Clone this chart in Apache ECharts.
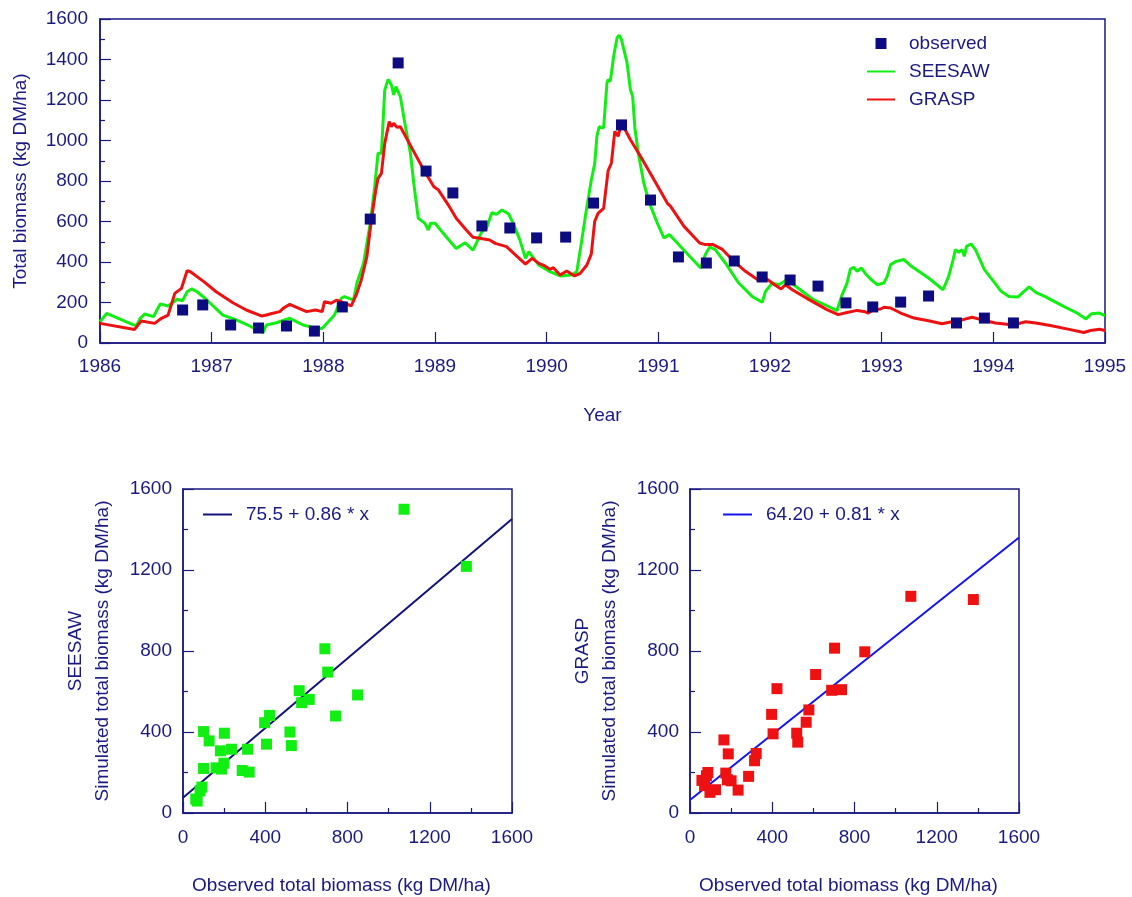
<!DOCTYPE html>
<html>
<head>
<meta charset="utf-8">
<script src="https://cdn.jsdelivr.net/npm/echarts@6/dist/echarts.min.js"></script>
<style>
html,body{margin:0;padding:0;background:#fff;}
#chart{width:1132px;height:897px;}
</style>
</head>
<body>
<div id="chart"></div>
<script>
// ---------- data ----------
const observed = [[1986.74,163],[1986.92,188],[1987.17,89],[1987.42,74],[1987.67,84],[1987.92,59],[1988.17,178],[1988.42,612],[1988.67,1383],[1988.92,849],[1989.16,741],[1989.42,578],[1989.67,568],[1989.91,519],[1990.17,523],[1990.42,691],[1990.67,1077],[1990.93,706],[1991.18,425],[1991.43,395],[1991.68,405],[1991.93,326],[1992.18,311],[1992.43,281],[1992.68,198],[1992.92,178],[1993.17,202],[1993.42,232],[1993.67,99],[1993.92,123],[1994.18,99]];

const seesaw = [[1986.00,105],[1986.06,146],[1986.30,89],[1986.33,89],[1986.36,122],[1986.40,143],[1986.48,130],[1986.51,163],[1986.54,193],[1986.61,183],[1986.69,216],[1986.74,209],[1986.78,253],[1986.82,267],[1986.87,253],[1986.94,221],[1987.10,138],[1987.22,114],[1987.34,84],[1987.46,51],[1987.49,89],[1987.58,100],[1987.70,122],[1987.82,89],[1987.94,72],[1987.99,72],[1988.10,138],[1988.16,221],[1988.19,229],[1988.27,212],[1988.30,295],[1988.36,393],[1988.42,591],[1988.46,772],[1988.49,937],[1988.52,937],[1988.55,1249],[1988.58,1302],[1988.61,1274],[1988.63,1225],[1988.65,1266],[1988.69,1216],[1988.73,1085],[1988.78,937],[1988.81,788],[1988.85,616],[1988.91,591],[1988.94,558],[1988.96,591],[1989.00,591],[1989.10,525],[1989.19,467],[1989.27,495],[1989.34,459],[1989.42,550],[1989.46,566],[1989.51,644],[1989.55,635],[1989.60,657],[1989.66,637],[1989.70,591],[1989.76,509],[1989.81,418],[1989.84,451],[1989.93,385],[1990.03,352],[1990.12,331],[1990.22,336],[1990.27,352],[1990.31,492],[1990.36,673],[1990.40,805],[1990.43,885],[1990.45,1020],[1990.47,1068],[1990.51,1062],[1990.54,1284],[1990.55,1300],[1990.57,1292],[1990.60,1416],[1990.63,1506],[1990.65,1520],[1990.67,1498],[1990.72,1383],[1990.75,1251],[1990.77,1218],[1990.79,1062],[1990.82,938],[1990.87,790],[1990.92,691],[1990.99,593],[1991.05,519],[1991.10,535],[1991.17,494],[1991.28,428],[1991.38,370],[1991.42,436],[1991.46,474],[1991.51,461],[1991.60,395],[1991.72,296],[1991.84,230],[1991.93,201],[1991.96,255],[1992.02,296],[1992.08,288],[1992.16,316],[1992.23,280],[1992.38,217],[1992.51,184],[1992.60,160],[1992.64,230],[1992.69,296],[1992.72,365],[1992.75,374],[1992.78,354],[1992.82,370],[1992.85,346],[1992.90,316],[1992.96,288],[1993.02,296],[1993.05,329],[1993.08,387],[1993.13,403],[1993.20,412],[1993.26,382],[1993.42,321],[1993.55,263],[1993.60,329],[1993.64,412],[1993.66,461],[1993.69,448],[1993.72,461],[1993.74,428],[1993.76,477],[1993.80,489],[1993.84,461],[1993.92,362],[1993.99,313],[1994.07,255],[1994.14,230],[1994.22,227],[1994.26,247],[1994.32,277],[1994.38,250],[1994.46,230],[1994.63,181],[1994.75,148],[1994.83,119],[1994.88,145],[1994.95,148],[1995.00,135]];

const grasp = [[1986.00,97],[1986.31,67],[1986.37,109],[1986.49,97],[1986.55,122],[1986.61,138],[1986.67,245],[1986.73,270],[1986.78,357],[1986.81,352],[1986.93,303],[1987.04,253],[1987.19,199],[1987.31,163],[1987.45,133],[1987.49,138],[1987.54,146],[1987.61,155],[1987.64,171],[1987.70,191],[1987.75,179],[1987.85,155],[1987.93,163],[1987.99,155],[1988.01,204],[1988.07,196],[1988.12,212],[1988.18,199],[1988.25,183],[1988.30,245],[1988.34,311],[1988.39,426],[1988.43,607],[1988.47,756],[1988.49,813],[1988.52,838],[1988.55,986],[1988.59,1093],[1988.61,1068],[1988.63,1085],[1988.66,1065],[1988.69,1068],[1988.73,1027],[1988.81,945],[1988.90,854],[1988.99,772],[1989.03,756],[1989.12,681],[1989.19,616],[1989.28,558],[1989.34,522],[1989.40,517],[1989.49,509],[1989.54,492],[1989.64,476],[1989.72,435],[1989.81,390],[1989.87,418],[1989.93,393],[1989.97,385],[1990.03,364],[1990.06,372],[1990.12,336],[1990.18,356],[1990.25,331],[1990.30,344],[1990.36,385],[1990.40,440],[1990.43,600],[1990.46,640],[1990.51,665],[1990.55,850],[1990.58,889],[1990.61,1045],[1990.64,1021],[1990.66,1062],[1990.69,1067],[1990.75,1004],[1990.84,922],[1990.96,807],[1991.08,691],[1991.11,675],[1991.23,576],[1991.37,494],[1991.42,486],[1991.49,486],[1991.57,464],[1991.66,412],[1991.78,354],[1991.90,309],[1991.98,313],[1992.04,288],[1992.10,267],[1992.14,288],[1992.20,263],[1992.35,214],[1992.51,165],[1992.61,140],[1992.69,151],[1992.78,161],[1992.84,156],[1992.88,148],[1992.93,165],[1992.99,168],[1993.02,176],[1993.08,173],[1993.17,148],[1993.29,123],[1993.42,110],[1993.54,95],[1993.63,105],[1993.72,114],[1993.81,127],[1993.90,114],[1994.02,99],[1994.14,91],[1994.22,95],[1994.29,105],[1994.38,99],[1994.51,86],[1994.69,66],[1994.81,52],[1994.87,62],[1994.95,68],[1995.00,62]];

const seesawScatter = [[1075,1500],[1378,1218],[690,811],[704,696],[849,583],[742,479],[565,604],[577,545],[614,561],[421,482],[397,446],[520,400],[527,333],[406,340],[314,315],[236,315],[182,307],[100,402],[127,356],[201,394],[100,220],[161,223],[187,217],[199,246],[288,210],[322,202],[92,128],[83,110],[62,69],[69,59]];

const graspScatter = [[1074,1070],[1378,1054],[703,814],[850,796],[611,684],[423,614],[689,606],[737,609],[578,509],[565,448],[397,487],[404,391],[519,394],[524,350],[165,361],[186,292],[322,294],[314,258],[285,181],[87,200],[80,184],[58,161],[71,135],[174,197],[182,164],[200,159],[234,113],[124,115],[97,102]];

const seesawFitName = '75.5 + 0.86 * x';
const seesawFitLine = [[0,75.5],[1600,1451.5]];
const graspFitName = '64.20 + 0.81 * x';
const graspFitLine = [[0,64.2],[1600,1360.2]];

const topLegend = ['observed','SEESAW','GRASP'];
const topTitles = {x:'Year', y:'Total biomass (kg DM/ha)'};
const scatterX = 'Observed total biomass (kg DM/ha)';
const scatterYLeft = 'SEESAW\nSimulated total biomass (kg DM/ha)';
const scatterYRight = 'GRASP\nSimulated total biomass (kg DM/ha)';

// ---------- style ----------
const NAVY = '#1a1a82';
const FONT = 'Liberation Sans, Arial, Helvetica, sans-serif';
const FS = 19;
const plain = v => String(v);

function lbl(margin){
  return {color:NAVY,fontSize:FS,fontFamily:FONT,margin:margin,formatter:plain};
}
function axisBase(extra){
  return Object.assign({
    axisLine:{show:true,onZero:false,lineStyle:{color:NAVY,width:1.5}},
    axisTick:{show:true,inside:true,length:11,lineStyle:{color:NAVY,width:1.2}},
    minorTick:{show:true,splitNumber:2,length:5,lineStyle:{color:NAVY,width:1.2}},
    splitLine:{show:false},
    nameTextStyle:{color:NAVY,fontSize:FS,fontFamily:FONT},
    nameLocation:'middle'
  }, extra);
}
const hideSym = {opacity:0};
const legText = {color:NAVY,fontSize:FS,fontFamily:FONT,padding:[0,0,0,9]};
const scatterXName = {color:NAVY,fontSize:FS,fontFamily:FONT,padding:[0,12,0,0]};

const chart = echarts.init(document.getElementById('chart'), null, {renderer:'canvas'});
const option = {
  animation:false,
  backgroundColor:'#fff',
  textStyle:{fontFamily:FONT},
  grid:[
    {left:100,top:19,width:1005,height:324,show:true,borderColor:NAVY,borderWidth:1.5},
    {left:183,top:489,width:329,height:324,show:true,borderColor:NAVY,borderWidth:1.5},
    {left:690,top:489,width:329,height:324,show:true,borderColor:NAVY,borderWidth:1.5}
  ],
  legend:[
    {data:[{name:topLegend[0],icon:'path://M0,0L1,0L1,1L0,1Z'},
           {name:topLegend[1],itemStyle:hideSym},
           {name:topLegend[2],itemStyle:hideSym}],
     orient:'vertical',left:866,top:34,itemWidth:28,itemHeight:11,itemGap:9,padding:0,textStyle:legText},
    {data:[{name:seesawFitName,itemStyle:hideSym}],left:202,top:505,itemWidth:29,itemHeight:11,padding:0,textStyle:legText},
    {data:[{name:graspFitName,itemStyle:hideSym}],left:722,top:505,itemWidth:29,itemHeight:11,padding:0,textStyle:legText}
  ],
  xAxis:[
    axisBase({gridIndex:0,type:'value',min:1986,max:1995,interval:1,name:topTitles.x,nameGap:63,
      minorTick:{show:false},axisLabel:lbl(14)}),
    axisBase({gridIndex:1,type:'value',min:0,max:1600,interval:400,name:scatterX,nameGap:63,
      nameTextStyle:scatterXName,axisLabel:lbl(15)}),
    axisBase({gridIndex:2,type:'value',min:0,max:1600,interval:400,name:scatterX,nameGap:63,
      nameTextStyle:scatterXName,axisLabel:lbl(15)})
  ],
  yAxis:[
    axisBase({gridIndex:0,type:'value',min:0,max:1600,interval:200,name:topTitles.y,nameGap:70,axisLabel:lbl(12)}),
    axisBase({gridIndex:1,type:'value',min:0,max:1600,interval:400,name:scatterYLeft,nameGap:67,
      nameTextStyle:{color:NAVY,fontSize:FS,fontFamily:FONT,lineHeight:27,align:'center'},axisLabel:lbl(11)}),
    axisBase({gridIndex:2,type:'value',min:0,max:1600,interval:400,name:scatterYRight,nameGap:67,
      nameTextStyle:{color:NAVY,fontSize:FS,fontFamily:FONT,lineHeight:27,align:'center'},axisLabel:lbl(11)})
  ],
  series:[
    {name:'SEESAW',type:'line',xAxisIndex:0,yAxisIndex:0,data:seesaw,symbol:'none',
     lineStyle:{color:'#11ee11',width:3},itemStyle:{color:'#11ee11'},z:2},
    {name:'GRASP',type:'line',xAxisIndex:0,yAxisIndex:0,data:grasp,symbol:'none',
     lineStyle:{color:'#ee1111',width:3},itemStyle:{color:'#ee1111'},z:3},
    {name:'observed',type:'scatter',xAxisIndex:0,yAxisIndex:0,data:observed,symbol:'rect',symbolSize:11,
     itemStyle:{color:'#0c0c80',opacity:1},z:4},
    {name:'seesawPts',type:'scatter',xAxisIndex:1,yAxisIndex:1,data:seesawScatter,symbol:'rect',symbolSize:11,
     itemStyle:{color:'#11ee11',opacity:1},z:3},
    {name:seesawFitName,type:'line',xAxisIndex:1,yAxisIndex:1,data:seesawFitLine,symbol:'none',
     lineStyle:{color:'#12127a',width:2},itemStyle:{color:'#12127a'},z:2},
    {name:'graspPts',type:'scatter',xAxisIndex:2,yAxisIndex:2,data:graspScatter,symbol:'rect',symbolSize:11,
     itemStyle:{color:'#ee1111',opacity:1},z:3},
    {name:graspFitName,type:'line',xAxisIndex:2,yAxisIndex:2,data:graspFitLine,symbol:'none',
     lineStyle:{color:'#1414ee',width:2},itemStyle:{color:'#1414ee'},z:2}
  ]
};
chart.setOption(option);
</script>
</body>
</html>
